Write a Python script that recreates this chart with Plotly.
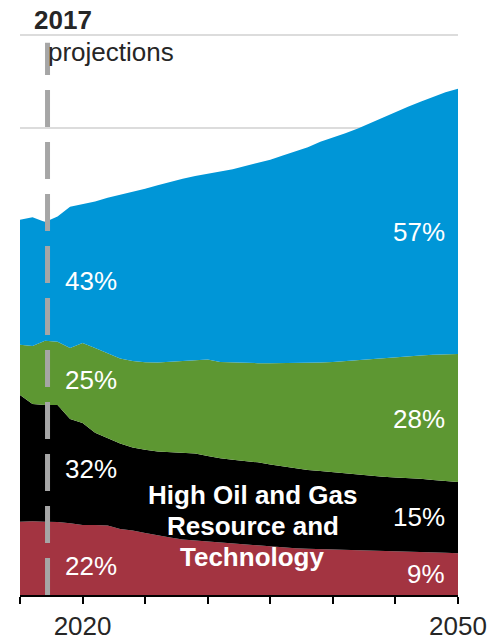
import plotly.graph_objects as go

# Electricity generation by fuel, High Oil and Gas Resource and Technology case
# (billion kilowatthours), history through 2017 and projections to 2050
years = list(range(2015, 2051))

nuclear = [786, 790, 786, 782, 768, 750, 750, 745, 707, 691, 665, 638, 616, 595, 584, 573,
           563, 552, 543, 531, 520, 511, 500, 495, 491, 488, 484, 482, 480, 478, 475, 469,
           464, 458, 452, 447]
coal = [1358, 1257, 1251, 1254, 1118, 1093, 989, 938, 916, 890, 890, 900, 913, 927, 932, 916,
        902, 898, 893, 890, 879, 866, 857, 845, 838, 827, 818, 809, 801, 789, 785, 785,
        781, 775, 770, 764]
renewables = [536, 622, 686, 678, 761, 857, 908, 911, 911, 927, 940, 952, 968, 983, 997, 1034,
              1032, 1042, 1050, 1063, 1085, 1107, 1129, 1149, 1163, 1182, 1206, 1227, 1249,
              1273, 1292, 1308, 1322, 1340, 1356, 1372]
natural_gas = [1340, 1379, 1272, 1340, 1514, 1490, 1568, 1661, 1752, 1815, 1857, 1899, 1929,
               1954, 1977, 1988, 2036, 2069, 2111, 2147, 2179, 2226, 2267, 2308, 2363, 2401,
               2438, 2481, 2529, 2578, 2626, 2669, 2717, 2765, 2808, 2840]

# share labels at the start and end of the projection period
start_shares = ["22%", "32%", "25%", "43%"]
end_shares = ["9%", "15%", "28%", "57%"]

case_lines = ["High Oil and Gas", "Resource and", "Technology"]

history_year = 2017
tick_years = [2015, 2020, 2025, 2030, 2035, 2040, 2045, 2050]
tick_text = ["", "2020", "", "", "", "", "", "2050"]

FONT = "Liberation Sans, Arial, sans-serif"
series = [
    ("Nuclear", nuclear, "#A33441"),
    ("Coal", coal, "#000000"),
    ("Renewables", renewables, "#5D9732"),
    ("Natural gas", natural_gas, "#0096D7"),
]

fig = go.Figure()
for name, vals, color in series:
    fig.add_trace(go.Scatter(
        x=years, y=vals, name=name, mode="lines",
        stackgroup="gen", line=dict(width=0, color=color),
        fillcolor=color, hoverinfo="x+y+name",
    ))

# label positions (year, value) inside each band
start_pos = [(2018.4, 311), (2018.4, 1355), (2018.4, 2304), (2018.4, 3361)]
end_pos = [(2049.1, 225), (2049.1, 836), (2049.1, 1886), (2049.1, 3889)]
case_pos = [(2033.6, 1071), (2033.6, 739), (2033.6, 407)]

annotations = []
for (x, y), t in zip(start_pos, start_shares):
    annotations.append(dict(x=x, y=y, xref="x", yref="y", text=t, showarrow=False,
                            xanchor="left", yanchor="middle",
                            font=dict(family=FONT, size=26, color="white")))
for (x, y), t in zip(end_pos, end_shares):
    annotations.append(dict(x=x, y=y, xref="x", yref="y", text=t, showarrow=False,
                            xanchor="right", yanchor="middle",
                            font=dict(family=FONT, size=26, color="white")))
for (x, y), t in zip(case_pos, case_lines):
    annotations.append(dict(x=x, y=y, xref="x", yref="y", text="<b>%s</b>" % t,
                            showarrow=False, xanchor="center", yanchor="middle",
                            font=dict(family=FONT, size=26, color="white")))

# header labels above the plot area (paper coordinates)
annotations.append(dict(x=0.028, y=1.0208, xref="paper", yref="paper", text="<b>2017</b>",
                        showarrow=False, xanchor="left", yanchor="middle",
                        font=dict(family=FONT, size=26, color="#262626")))
annotations.append(dict(x=0.059, y=0.9641, xref="paper", yref="paper", text="projections",
                        showarrow=False, xanchor="left", yanchor="middle",
                        font=dict(family=FONT, size=26, color="#262626")))

fig.add_shape(type="line", x0=history_year + 0.2, x1=history_year + 0.2, y0=0, y1=5916,
              xref="x", yref="y", layer="above",
              line=dict(color="#A6A6A6", width=5, dash="37px,15px"))

fig.update_layout(
    width=491, height=639,
    margin=dict(l=20, r=33, t=32, b=44),
    paper_bgcolor="white", plot_bgcolor="white",
    showlegend=False,
    annotations=annotations,
    font=dict(family=FONT, size=26, color="#262626"),
)
fig.update_xaxes(
    range=[2015, 2050], tickvals=tick_years, ticktext=tick_text,
    ticks="outside", ticklen=7, tickwidth=1.5, tickcolor="black",
    showline=True, linecolor="black", linewidth=1.5,
    showgrid=False, zeroline=False, automargin=False,
    tickfont=dict(family=FONT, size=26, color="#262626"),
)
fig.update_yaxes(
    range=[0, 6032], dtick=1000, showticklabels=False,
    showgrid=True, gridcolor="#DCDCDC", gridwidth=1.5,
    zeroline=False, showline=False, automargin=False,
)

fig.write_html("out.html")
